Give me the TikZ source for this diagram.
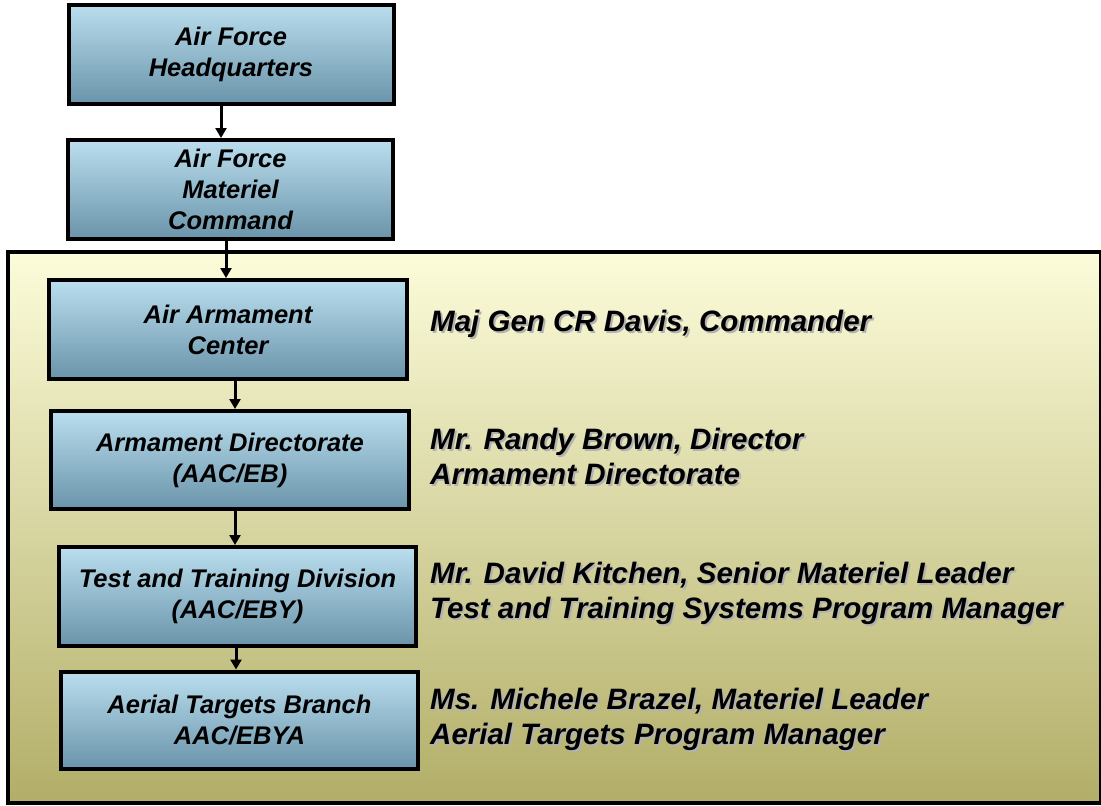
\documentclass[tikz,border=0pt]{standalone}
\usepackage{fontspec}
\setmainfont{Liberation Sans}
\usetikzlibrary{arrows.meta}
\definecolor{boxtop}{RGB}{186,222,238}
\definecolor{boxbot}{RGB}{106,148,170}
\definecolor{frametop}{RGB}{252,252,218}
\definecolor{framebot}{RGB}{178,174,104}
\newcommand\shd[1]{\makebox[0pt][l]{\hspace{2pt}\raisebox{-2pt}{\color{black!30}#1}}#1}
\begin{document}
\begin{tikzpicture}[x=1pt,y=-1pt,
  orgbox/.style={draw=black,line width=4pt,top color=boxtop,bottom color=boxbot,
    align=center,inner sep=0pt,font=\fontsize{25.5pt}{31pt}\selectfont\bfseries\itshape},
  infotext/.style={anchor=west,align=left,inner sep=0pt,
    font=\fontsize{29.5pt}{35pt}\selectfont\bfseries\itshape},
  arr/.style={line width=3pt,-{Triangle[length=10pt,width=11pt]}}]
\useasboundingbox (0,0) rectangle (1101,806);
\draw[line width=4pt,top color=frametop,bottom color=framebot] (8,252) rectangle (1101,803);

\node[orgbox,minimum width=325pt,minimum height=99pt] (hq) at (231,54) {Air Force\\Headquarters};
\node[orgbox,minimum width=325pt,minimum height=99pt] (afmc) at (230.5,189.5) {Air Force\\Materiel\\Command};
\node[orgbox,minimum width=358pt,minimum height=99pt] (aac) at (228,329.5) {Air Armament\\Center};
\node[orgbox,minimum width=358pt,minimum height=98pt] (ad) at (230,460) {Armament Directorate\\(AAC/EB)};
\node[orgbox,minimum width=357pt,minimum height=99pt] (ttd) at (237.5,596.5) {Test and Training Division\\(AAC/EBY)};
\node[orgbox,minimum width=357pt,minimum height=97pt] (atb) at (239.5,720) {Aerial Targets Branch\\AAC/EBYA};

\draw[arr] (hq.south -| 221,0) -- (afmc.north -| 221,0);
\draw[arr] (afmc.south -| 226,0) -- (aac.north -| 226,0);
\draw[arr] (aac.south -| 235,0) -- (ad.north -| 235,0);
\draw[arr] (ad.south -| 235,0) -- (ttd.north -| 235,0);
\draw[arr] (ttd.south -| 236,0) -- (atb.north -| 236,0);

\node[infotext] (t1) at (430,325) {\shd{Maj Gen CR Davis,\ Commander}};
\node[infotext] (t2) at (430,457) {\shd{Mr. Randy Brown, Director}\\\shd{Armament Directorate}};
\node[infotext] (t3) at (430,594) {\shd{Mr. David Kitchen,\ Senior Materiel Leader}\\\shd{Test and Training Systems\ Program Manager}};
\node[infotext] (t4) at (430,720) {\shd{Ms. Michele Brazel, Materiel Leader}\\\shd{Aerial Targets\ Program Manager}};
\end{tikzpicture}
\end{document}
